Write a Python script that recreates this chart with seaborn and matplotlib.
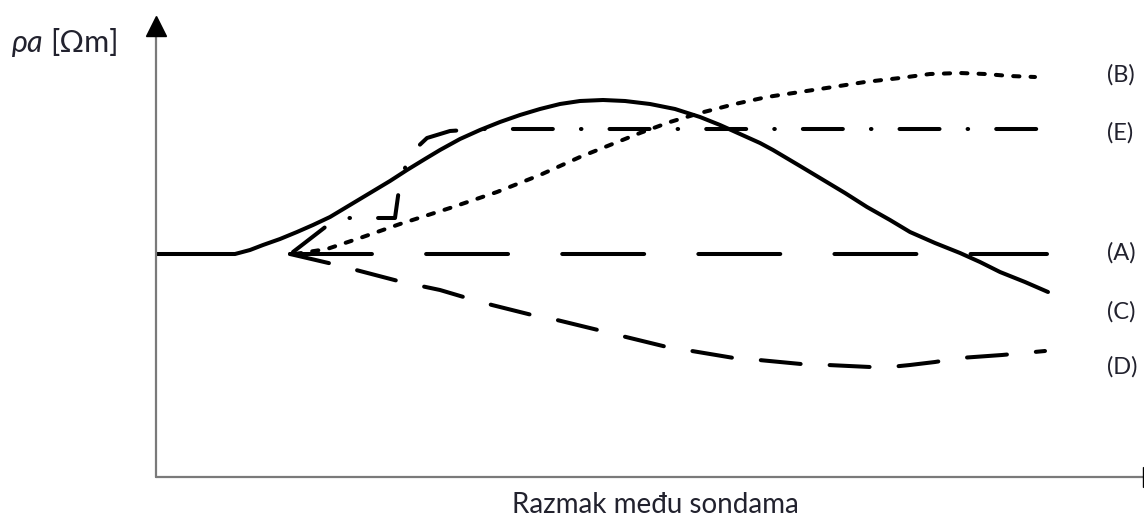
import numpy as np
import pandas as pd
import matplotlib
matplotlib.use("Agg")
import matplotlib.pyplot as plt
import seaborn as sns

# Curve values (arbitrary units: x = probe spacing, y = apparent resistivity)
c_x = [0.00, 0.79, 0.94, 1.07, 1.24, 1.41, 1.57, 1.74, 1.94, 2.14, 2.34, 2.51, 2.69, 2.84,
       3.04, 3.24, 3.44, 3.64, 3.84, 4.04, 4.24, 4.47, 4.69, 4.94, 5.19, 5.44, 5.64, 5.84,
       6.04, 6.17, 6.44, 6.64, 6.89, 7.11, 7.34, 7.54, 7.79, 8.04, 8.24, 8.44, 8.69, 8.92]
c_y = [2.23, 2.23, 2.27, 2.32, 2.38, 2.45, 2.52, 2.60, 2.72, 2.84, 2.96, 3.07, 3.18, 3.27,
       3.38, 3.47, 3.55, 3.62, 3.68, 3.73, 3.76, 3.77, 3.76, 3.73, 3.68, 3.60, 3.52, 3.43,
       3.34, 3.27, 3.11, 2.99, 2.84, 2.70, 2.57, 2.45, 2.34, 2.24, 2.15, 2.05, 1.95, 1.85]

a_x = [1.34, 8.91]
a_y = [2.23, 2.23]

b_x = [1.39, 1.71, 2.04, 2.44, 2.94, 3.41, 3.84, 4.24, 4.54, 4.84, 5.14, 5.44, 5.79, 6.11,
       6.44, 6.77, 7.09, 7.44, 7.74, 8.04, 8.29, 8.54, 8.79]
b_y = [2.23, 2.28, 2.39, 2.53, 2.69, 2.85, 3.02, 3.20, 3.32, 3.44, 3.55, 3.64, 3.73, 3.80,
       3.85, 3.90, 3.95, 3.99, 4.03, 4.04, 4.03, 4.01, 4.00]

e_x = [1.37, 1.81, 2.39, 2.44, 2.54, 2.71, 2.94, 3.24, 8.91]
e_y = [2.25, 2.59, 2.59, 2.95, 3.23, 3.39, 3.46, 3.48, 3.48]

d_x = [1.34, 1.81, 2.46, 2.84, 3.11, 3.36, 3.76, 4.01, 4.42, 4.70, 5.11, 5.36, 5.78, 6.03,
       6.45, 6.72, 7.14, 7.34, 7.54, 7.79, 8.04, 8.46, 8.89]
d_y = [2.23, 2.12, 1.95, 1.87, 1.79, 1.72, 1.62, 1.57, 1.47, 1.40, 1.30, 1.26, 1.19, 1.17,
       1.13, 1.12, 1.10, 1.10, 1.12, 1.15, 1.19, 1.22, 1.26]

curve_names = ["(B)", "(E)", "(A)", "(C)", "(D)"]
label_y = [4.02, 3.44, 2.24, 1.65, 1.10]

sns.set_theme(style="white")
plt.rcParams["font.family"] = ["Lato", "DejaVu Sans"]
plt.rcParams["lines.scale_dashes"] = False

fig = plt.figure(figsize=(11.44, 5.26), dpi=100)
ax = fig.add_axes([156 / 1144, 49 / 526, 1 - 156 / 1144, (526 - 49 - 17) / 526])
ax.set_xlim(0, 9.88)
ax.set_ylim(0, 4.60)
ax.axis("off")

lw = 2.9
curves = [
    (c_x, c_y, "-"),
    (a_x, a_y, (0, (59, 39))),
    (b_x, b_y, (0, (4.5, 8.0))),
    (e_x, e_y, (0, (28.8, 20.2, 0.4, 20.2))),
    (d_x, d_y, (0, (28.8, 20.9))),
]
for xs, ys, ls in curves:
    df = pd.DataFrame({"x": xs, "y": ys})
    sns.lineplot(data=df, x="x", y="y", ax=ax, color="black", linewidth=lw,
                 linestyle=ls, estimator=None, sort=False,
                 dash_capstyle="round", solid_capstyle="round", solid_joinstyle="round")

# axes with arrow heads
ax.plot([0, 0], [0, 4.46], color="#7a7a7a", lw=1.6, clip_on=False)
ax.plot([0], [4.51], marker="^", markersize=14, color="black", clip_on=False)
ax.plot([0, 9.95], [0, 0], color="#7a7a7a", lw=1.6, clip_on=False)
ax.plot([9.97], [0], marker=">", markersize=14, color="black", clip_on=False)

txt_color = "#22222e"
for name, yy in zip(curve_names, label_y):
    ax.text(9.51, yy, name, fontsize=17, color=txt_color, va="center", ha="left")

rho = fig.text(12 / 1144, 1 - 43 / 526, "ρa", fontsize=22, style="italic", color=txt_color,
               va="center", ha="left")
ax.annotate("[Ωm]", xy=(1, 0.5), xycoords=rho, xytext=(5, 0), textcoords="offset points",
            fontsize=22, color=txt_color, va="center", ha="left", annotation_clip=False)
fig.text(655 / 1144, 1 - 505 / 526, "Razmak među sondama", fontsize=20, color=txt_color,
         va="center", ha="center")

fig.savefig("out.png", dpi=100)
